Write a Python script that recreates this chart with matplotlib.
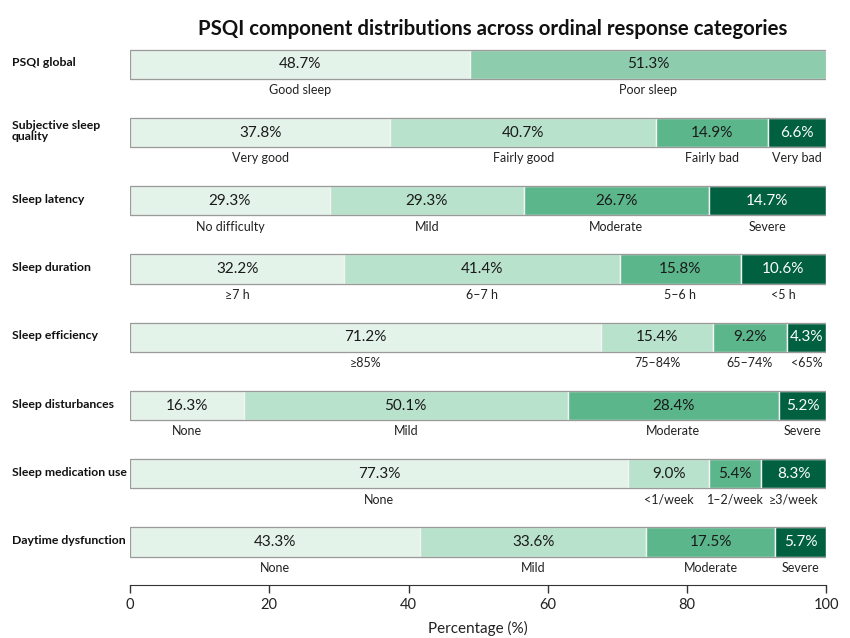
import matplotlib
matplotlib.use('Agg')
import matplotlib.pyplot as plt
from matplotlib.transforms import blended_transform_factory

plt.rcParams['font.family'] = ['Lato', 'DejaVu Sans']

components = ['PSQI global', 'Subjective sleep\nquality', 'Sleep latency', 'Sleep duration',
              'Sleep efficiency', 'Sleep disturbances', 'Sleep medication use', 'Daytime dysfunction']

# printed percentages
pct_labels = [
    [48.7, 51.3],
    [37.8, 40.7, 14.9, 6.6],
    [29.3, 29.3, 26.7, 14.7],
    [32.2, 41.4, 15.8, 10.6],
    [71.2, 15.4, 9.2, 4.3],
    [16.3, 50.1, 28.4, 5.2],
    [77.3, 9.0, 5.4, 8.3],
    [43.3, 33.6, 17.5, 5.7],
]

# segment lengths as drawn on the percentage axis
seg_widths = [
    [48.8, 51.2],
    [37.4, 38.2, 16.1, 8.3],
    [28.7, 27.9, 26.5, 16.9],
    [30.8, 39.6, 17.3, 12.3],
    [67.7, 16.0, 10.7, 5.6],
    [16.3, 46.6, 30.3, 6.8],
    [71.5, 11.7, 7.5, 9.3],
    [41.7, 32.4, 18.6, 7.3],
]

response_labels = [
    ['Good sleep', 'Poor sleep'],
    ['Very good', 'Fairly good', 'Fairly bad', 'Very bad'],
    ['No difficulty', 'Mild', 'Moderate', 'Severe'],
    ['\u22657 h', '6\u20137 h', '5\u20136 h', '<5 h'],
    ['\u226585%', '75\u201384%', '65\u201374%', '<65%'],
    ['None', 'Mild', 'Moderate', 'Severe'],
    ['None', '<1/week', '1\u20132/week', '\u22653/week'],
    ['None', 'Mild', 'Moderate', 'Severe'],
]

colors4 = ['#e4f3ea', '#b8e2cc', '#5bb68b', '#00603f']
colors2 = ['#e4f3ea', '#8dcdad']
text_colors = ['#1a1a1a', '#1a1a1a', '#1a1a1a', 'white']

fig = plt.figure(figsize=(8.5, 6.38), dpi=100)
ax = fig.add_axes([0.153, 0.083, 0.819, 0.859])

bar_h = 0.43
for i, (widths, pcts, labs) in enumerate(zip(seg_widths, pct_labels, response_labels)):
    cols = colors2 if len(widths) == 2 else colors4
    left = 0
    for j, (w, p, lab) in enumerate(zip(widths, pcts, labs)):
        ax.barh(i, w, left=left, height=bar_h, color=cols[j], edgecolor='#f4f4f4', linewidth=1.0)
        tc = text_colors[j] if len(widths) == 4 else '#1a1a1a'
        ax.text(left + w / 2, i, f'{p:.1f}%', ha='center', va='center', fontsize=11,
                color=tc)
        ax.text(left + w / 2, i + 0.38, lab, ha='center', va='center', fontsize=9, color='#222222')
        left += w
    # outer border
    ax.barh(i, left, height=bar_h, color='none', edgecolor='#9a9a9a', linewidth=0.9)

# row names, left-aligned at the figure edge
trans = blended_transform_factory(fig.transFigure, ax.transData)
for i, name in enumerate(components):
    ax.text(0.014, i - 0.02, name, transform=trans, ha='left', va='center', fontsize=8.8,
            fontweight='bold', color='#111111', linespacing=1.05)

ax.set_xlim(0, 100)
ax.set_ylim(7.63, -0.4)
ax.set_yticks([])
ax.set_xticks([0, 20, 40, 60, 80, 100])
ax.tick_params(axis='x', labelsize=10.5, length=6, width=1, color='#333333', labelcolor='#222222')
for s in ['top', 'right', 'left']:
    ax.spines[s].set_visible(False)
ax.spines['bottom'].set_color('#333333')
ax.set_xlabel('Percentage (%)', fontsize=11, color='#222222', labelpad=6)

fig.text(0.58, 0.955, 'PSQI component distributions across ordinal response categories',
         ha='center', va='center', fontsize=14.7, fontweight='bold', color='#111111')

fig.savefig('out.png', dpi=100)
